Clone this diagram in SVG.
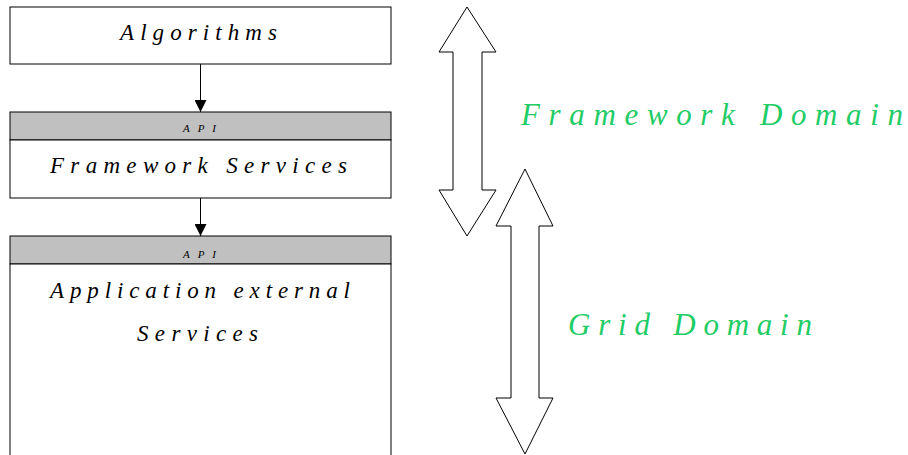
<svg xmlns="http://www.w3.org/2000/svg" width="908" height="455" viewBox="0 0 908 455">
<style>
.box{fill:#ffffff;stroke:#000000;stroke-width:1}
.hdr{fill:#c0c0c0;stroke:#000000;stroke-width:1}
.t{font-family:"Liberation Serif",serif;font-style:italic;fill:#000000}
.big{font-size:23px}
.api{font-size:11px}
.g{font-family:"Liberation Serif",serif;font-style:italic;fill:#1fcc66;font-size:31px}
.dbl{fill:#ffffff;stroke:#000000;stroke-width:1}
.con{stroke:#000000;stroke-width:1;fill:none}
</style>
<defs>
<marker id="ah" viewBox="0 0 12 12" refX="12" refY="6" markerWidth="12" markerHeight="12" markerUnits="userSpaceOnUse" orient="auto">
<path d="M0,0 L12,6 L0,12 Z" fill="#000000"/>
</marker>
</defs>
<g id="algorithms">
<rect class="box" x="10" y="7" width="381" height="57"/>
<text class="t big" x="120" y="40" textLength="157" lengthAdjust="spacing">Algorithms</text>
</g>
<g id="framework-services">
<rect class="hdr" x="10" y="112" width="381" height="28"/>
<text class="t api" x="183" y="132" textLength="33" lengthAdjust="spacing">API</text>
<rect class="box" x="10" y="140" width="381" height="58"/>
<text class="t big" x="50" y="173" textLength="297" lengthAdjust="spacing">Framework Services</text>
</g>
<g id="application-external-services">
<rect class="hdr" x="10" y="236" width="381" height="28"/>
<text class="t api" x="183" y="258" textLength="33" lengthAdjust="spacing">API</text>
<rect class="box" x="10" y="264" width="381" height="200"/>
<text class="t big" x="50" y="298" textLength="300" lengthAdjust="spacing">Application external</text>
<text class="t big" x="137" y="341" textLength="121" lengthAdjust="spacing">Services</text>
</g>
<g id="framework-domain">
<polygon class="dbl" points="467,7 496,52 482,52 482,190 496,190 467,236 439,190 453,190 453,52 439,52"/>
<text class="g" x="521" y="125" textLength="382" lengthAdjust="spacing">Framework Domain</text>
</g>
<g id="grid-domain">
<polygon class="dbl" points="525,169 553,226 539,226 539,398 553,398 525,454 496,398 511,398 511,226 496,226"/>
<text class="g" x="568" y="335" textLength="244" lengthAdjust="spacing">Grid Domain</text>
</g>
<g id="connectors">
<line class="con" x1="200.5" y1="64" x2="200.5" y2="112" marker-end="url(#ah)"/>
<line class="con" x1="200.5" y1="198" x2="200.5" y2="236" marker-end="url(#ah)"/>
</g>
</svg>
